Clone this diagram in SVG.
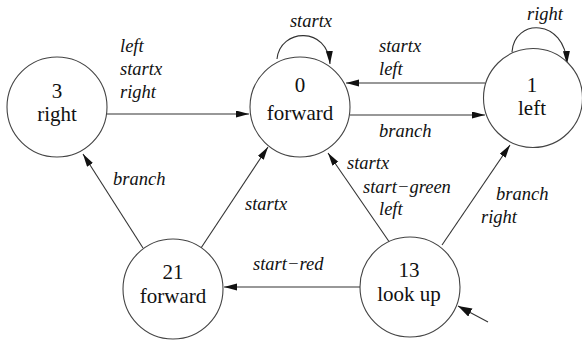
<svg xmlns="http://www.w3.org/2000/svg" width="582" height="340" viewBox="0 0 582 340">
<style>
.node circle{fill:#fff;stroke:#444;stroke-width:1.1}
.node text{font-family:"Liberation Serif",serif;font-size:21px;fill:#111;text-anchor:middle}
.edge{fill:none;stroke:#333;stroke-width:1.1}
.lbl{font-family:"Liberation Serif",serif;font-style:italic;font-size:18.5px;fill:#111}
</style>
<defs>
<marker id="ah" markerUnits="userSpaceOnUse" markerWidth="14" markerHeight="8" refX="13" refY="3.5" orient="auto">
<path d="M0,0 L13,3.5 L0,7 z" fill="#111"/>
</marker>
<marker id="ah2" markerUnits="userSpaceOnUse" markerWidth="16" markerHeight="10" refX="14" refY="4.5" orient="auto">
<path d="M0,0 L14,4.5 L0,9 z" fill="#111"/>
</marker>
</defs>
<g id="connectors">
<line class="edge" x1="107" y1="114" x2="249" y2="114" marker-end="url(#ah)"/>
<line class="edge" x1="350" y1="115" x2="485" y2="115" marker-end="url(#ah)"/>
<line class="edge" x1="485" y1="83" x2="346" y2="83" marker-end="url(#ah)"/>
<path class="edge" d="M277,59 C280,28 328,26 330,64" marker-end="url(#ah)"/>
<path class="edge" d="M512,52 C514,18 565,18 567,64" marker-end="url(#ah)"/>
<line class="edge" x1="390" y1="243" x2="328" y2="153" marker-end="url(#ah)"/>
<line class="edge" x1="442" y1="245" x2="510" y2="145" marker-end="url(#ah)"/>
<line class="edge" x1="201" y1="248" x2="268" y2="147" marker-end="url(#ah)"/>
<line class="edge" x1="143" y1="248" x2="83" y2="154" marker-end="url(#ah)"/>
<line class="edge" x1="360" y1="287" x2="224" y2="287" marker-end="url(#ah)"/>
<line class="edge" x1="488" y1="322" x2="458" y2="306" stroke-width="3" marker-end="url(#ah2)"/>
<text class="lbl" x="120" y="52">left</text>
<text class="lbl" x="120" y="75">startx</text>
<text class="lbl" x="120" y="98">right</text>
<text class="lbl" x="311" y="27" text-anchor="middle">startx</text>
<text class="lbl" x="545" y="20" text-anchor="middle">right</text>
<text class="lbl" x="379" y="52">startx</text>
<text class="lbl" x="379" y="75">left</text>
<text class="lbl" x="379" y="137">branch</text>
<text class="lbl" x="347" y="169">startx</text>
<text class="lbl" x="363" y="193">start−green</text>
<text class="lbl" x="379" y="215">left</text>
<text class="lbl" x="496" y="200">branch</text>
<text class="lbl" x="481" y="223">right</text>
<text class="lbl" x="245" y="210">startx</text>
<text class="lbl" x="113" y="185">branch</text>
<text class="lbl" x="253" y="270">start−red</text>
</g>
<g id="n3" class="node"><circle cx="57" cy="107" r="50"/><text x="57" y="98">3</text><text x="57" y="121">right</text></g>
<g id="n0" class="node"><circle cx="300" cy="107" r="50"/><text x="300" y="92">0</text><text x="300" y="120">forward</text></g>
<g id="n1" class="node"><circle cx="533" cy="98" r="49.5"/><text x="532" y="92">1</text><text x="532" y="115">left</text></g>
<g id="n21" class="node"><circle cx="173" cy="289" r="50"/><text x="173" y="279">21</text><text x="173" y="303">forward</text></g>
<g id="n13" class="node"><circle cx="410" cy="287" r="50"/><text x="409" y="277">13</text><text x="409" y="301">look up</text></g>
</svg>
